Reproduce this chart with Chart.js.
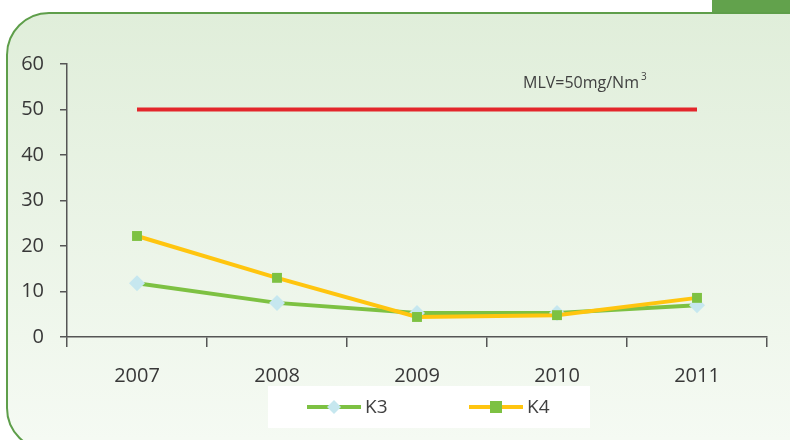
<!DOCTYPE html>
<html><head><meta charset="utf-8">
<script src="https://cdn.jsdelivr.net/npm/chart.js@4.4.1/dist/chart.umd.min.js"></script>
<style>html,body{margin:0;padding:0;background:#fff;}#wrap{width:790px;height:440px;position:relative;}</style>
</head><body><div id="wrap"><canvas id="c" width="790" height="440"></canvas></div>
<script>
const categories = ['2007','2008','2009','2010','2011'];
const k3Values = [11.8, 7.5, 5.3, 5.3, 7.0];
const k4Values = [22.2, 13.0, 4.4, 4.8, 8.6];
const mlvValues = [50, 50, 50, 50, 50];
const yTicks = [0, 10, 20, 30, 40, 50, 60];
const mlvLabel = 'MLV=50mg/Nm';

const FONT = '"Open Sans", "Noto Sans", sans-serif';

const panelPlugin = {
  id: 'panel',
  beforeDraw(chart) {
    const ctx = chart.ctx;
    ctx.save();
    ctx.fillStyle = '#fff';
    ctx.fillRect(0, 0, 790, 440);
    ctx.fillStyle = '#62a24c';
    ctx.fillRect(712, 0, 78, 14);
    const x0 = 7, y0 = 13, x1 = 800, y1 = 450, r = 42;
    ctx.beginPath();
    ctx.moveTo(x0 + r, y0);
    ctx.lineTo(x1, y0);
    ctx.lineTo(x1, y1);
    ctx.lineTo(x0 + r, y1);
    ctx.arcTo(x0, y1, x0, y1 - r, r);
    ctx.lineTo(x0, y0 + r);
    ctx.arcTo(x0, y0, x0 + r, y0, r);
    ctx.closePath();
    const g = ctx.createLinearGradient(0, y0, 0, 440);
    g.addColorStop(0, '#e0eeda');
    g.addColorStop(1, '#f5faf3');
    ctx.fillStyle = g;
    ctx.fill();
    ctx.lineWidth = 2;
    ctx.strokeStyle = '#5e9e4a';
    ctx.stroke();
    ctx.restore();
  },
  afterDraw(chart) {
    const ctx = chart.ctx;
    ctx.save();
    ctx.fillStyle = '#404040';
    ctx.font = '16px ' + FONT;
    ctx.textBaseline = 'alphabetic';
    ctx.textAlign = 'left';
    const w = ctx.measureText(mlvLabel).width;
    const lx = 523;
    ctx.fillText(mlvLabel, lx, 88);
    ctx.font = '10px ' + FONT;
    ctx.fillText('3', lx + w + 2, 80);
    ctx.fillStyle = '#ffffff';
    ctx.fillRect(268, 386, 322, 42);
    const items = chart.data.datasets.filter(d => d.label !== 'MLV');
    const xs = [307, 469];
    items.forEach((ds, i) => {
      const x = xs[i], y = 407;
      ctx.strokeStyle = ds.borderColor;
      ctx.lineWidth = 4;
      ctx.beginPath(); ctx.moveTo(x, y); ctx.lineTo(x + 54, y); ctx.stroke();
      ctx.fillStyle = ds.pointBackgroundColor;
      const cx = x + 27;
      if (ds.pointStyle === 'rectRot') {
        ctx.beginPath();
        ctx.moveTo(cx, y - 7); ctx.lineTo(cx + 7, y); ctx.lineTo(cx, y + 7); ctx.lineTo(cx - 7, y);
        ctx.closePath(); ctx.fill();
      } else {
        ctx.fillRect(cx - 6, y - 6, 12, 12);
      }
      ctx.fillStyle = '#404040';
      ctx.font = '19px ' + FONT;
      ctx.textBaseline = 'middle';
      ctx.fillText(ds.label, x + 58, y + 1);
    });
    ctx.restore();
  }
};

new Chart(document.getElementById('c'), {
  type: 'line',
  data: {
    labels: categories,
    datasets: [
      { label: 'MLV', data: mlvValues, borderColor: '#e3262b', backgroundColor: '#e3262b',
        borderWidth: 4, pointRadius: 0, order: 3 },
      { label: 'K3', data: k3Values, borderColor: '#7dc142', backgroundColor: '#7dc142',
        borderWidth: 4, pointStyle: 'rectRot', pointRadius: 8, pointBackgroundColor: '#c6e7ef',
        pointBorderWidth: 0, pointBorderColor: '#c6e7ef', order: 2 },
      { label: 'K4', data: k4Values, borderColor: '#ffc50f', backgroundColor: '#ffc50f',
        borderWidth: 4, pointStyle: 'rect', pointRadius: 7, pointBackgroundColor: '#7dc142',
        pointBorderWidth: 0, pointBorderColor: '#7dc142', order: 1 }
    ]
  },
  options: {
    responsive: false,
    animation: false,
    layout: { padding: { left: 0, right: 23, top: 64, bottom: 0 } },
    plugins: { legend: { display: false }, tooltip: { enabled: false } },
    scales: {
      x: {
        offset: true,
        grid: { offset: true, drawOnChartArea: false, drawTicks: true, tickLength: 10, color: '#555', lineWidth: 1.5 },
        border: { display: true, color: '#555', width: 1.5 },
        ticks: { color: '#383838', font: { family: FONT, size: 20 }, padding: 17 },
        afterFit(s) { s.height = 103; }
      },
      y: {
        min: 0, max: 60,
        afterBuildTicks(s) { s.ticks = yTicks.map(v => ({ value: v })); },
        grid: { drawOnChartArea: false, drawTicks: true, tickLength: 7, color: '#555', lineWidth: 1.5 },
        border: { display: true, color: '#555', width: 1.5 },
        ticks: { color: '#383838', font: { family: FONT, size: 20 }, padding: 16 },
        afterFit(s) { s.width = 67; }
      }
    }
  },
  plugins: [panelPlugin]
});
</script></body></html>
